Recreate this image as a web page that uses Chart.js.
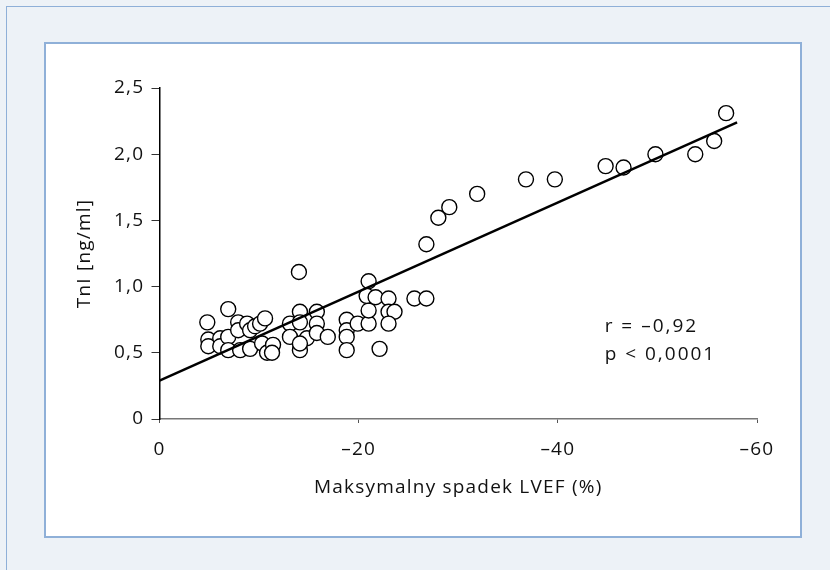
<!DOCTYPE html>
<html>
<head>
<meta charset="utf-8">
<script src="https://cdn.jsdelivr.net/npm/chart.js@4.4.1/dist/chart.umd.min.js"></script>
<style>
  html, body { margin: 0; padding: 0; }
  body { width: 830px; height: 570px; background: #edf2f7; position: relative; overflow: hidden; }
  .outer { position: absolute; left: 6px; top: 6px; width: 900px; height: 700px; border: 1px solid #8fb0d8; }
  .inner { position: absolute; left: 44px; top: 42px; width: 754px; height: 492px; background: #fff; border: 2px solid #8fb0d8; }
  #chart { position: absolute; left: 0; top: 0; }
</style>
</head>
<body>
<div class="outer"></div>
<div class="inner"></div>
<canvas id="chart" width="830" height="570"></canvas>
<script>
// max LVEF drop (%) vs TnI (ng/ml)
const lvefDrop = [
  -4.8, -4.9, -4.9, -6.1, -6.1, -6.9, -6.9, -6.9, -7.9, -7.9, -8.1, -8.8, -9.1, -9.1,
  -9.6, -10.1, -10.6, -10.3, -10.8, -11.4, -11.3,
  -14.0, -14.1, -15.8, -13.1, -14.1, -15.8, -13.1, -14.8, -15.8, -16.9, -14.1, -14.1,
  -18.8, -18.8, -18.8, -18.8, -19.9, -21.0, -21.0, -21.0, -20.8, -21.7, -23.0, -23.0,
  -23.6, -23.0, -22.1, -25.6, -26.8,
  -26.8, -28.0, -29.1, -31.9, -36.8, -39.7, -44.8, -46.6, -49.8, -53.8, -55.7, -56.9
];
const tni = [
  0.73, 0.60, 0.55, 0.61, 0.55, 0.83, 0.62, 0.52, 0.73, 0.67, 0.52, 0.72, 0.67, 0.53,
  0.70, 0.72, 0.76, 0.57, 0.50, 0.56, 0.50,
  1.11, 0.81, 0.81, 0.72, 0.73, 0.72, 0.62, 0.61, 0.65, 0.62, 0.52, 0.57,
  0.75, 0.67, 0.62, 0.52, 0.72, 0.72, 0.82, 1.04, 0.93, 0.92, 0.91, 0.81,
  0.81, 0.72, 0.53, 0.91, 0.91,
  1.32, 1.52, 1.60, 1.70, 1.81, 1.81, 1.91, 1.90, 2.00, 2.00, 2.10, 2.31
];
const fitX = [0, -58];
const fitY = [0.29, 2.24];
const xTicks = [0, -20, -40, -60];
const yTicks = [0, 0.5, 1.0, 1.5, 2.0, 2.5];
const statLines = ['r = \u20130,92', 'p < 0,0001'];
const statX = -44.7;
const statY = [0.695, 0.483];

const FONT = "'Open Sans', sans-serif";
const FS = 19;

const fmtX = v => v === 0 ? '0' : '\u2013' + Math.abs(v);
const fmtY = v => v === 0 ? '0' : v.toFixed(1).replace('.', ',');

// the original typeface runs wider, so open up the spacing a bit
const spacing = {
  id: 'spacing',
  beforeDraw(chart) { chart.ctx.letterSpacing = '1.2px'; }
};

const statPlugin = {
  id: 'stats',
  afterDatasetsDraw(chart) {
    const { ctx, scales: { x, y } } = chart;
    ctx.save();
    ctx.letterSpacing = '2px';
    ctx.font = FS + 'px ' + FONT;
    ctx.fillStyle = '#111';
    ctx.textAlign = 'left';
    ctx.textBaseline = 'middle';
    statLines.forEach((t, i) => ctx.fillText(t, x.getPixelForValue(statX), y.getPixelForValue(statY[i])));
    ctx.restore();
  }
};

new Chart(document.getElementById('chart'), {
  type: 'scatter',
  data: {
    datasets: [
      {
        type: 'line',
        data: fitX.map((v, i) => ({ x: v, y: fitY[i] })),
        borderColor: '#000',
        borderWidth: 2.5,
        pointRadius: 0,
        fill: false,
        order: 0
      },
      {
        data: lvefDrop.map((v, i) => ({ x: v, y: tni[i] })),
        backgroundColor: '#fff',
        borderColor: '#000',
        borderWidth: 1.4,
        pointRadius: 7.5,
        pointHoverRadius: 7.5,
        order: 1
      }
    ]
  },
  options: {
    responsive: false,
    animation: false,
    events: [],
    layout: { padding: { left: 73.6, right: 73, top: 88, bottom: 70.6 } },
    plugins: { legend: { display: false }, tooltip: { enabled: false } },
    scales: {
      x: {
        type: 'linear',
        reverse: true,
        min: -60,
        max: 0,
        afterBuildTicks: s => { s.ticks = xTicks.map(v => ({ value: v })); },
        afterFit: s => { s.height = 80.4; },
        border: { display: true, color: '#777', width: 1.5 },
        grid: { drawOnChartArea: false, drawTicks: true, tickLength: 4, color: '#555' },
        ticks: { padding: 15.6, color: '#111', font: { family: FONT, size: FS }, callback: v => fmtX(v) },
        title: { display: true, text: 'Maksymalny spadek LVEF (%)', color: '#111', padding: 0, font: { family: FONT, size: FS } }
      },
      y: {
        type: 'linear',
        min: 0,
        max: 2.5,
        afterBuildTicks: s => { s.ticks = yTicks.map(v => ({ value: v })); },
        afterFit: s => { s.width = 85.9; },
        border: { display: true, color: '#000', width: 1.5 },
        grid: { drawOnChartArea: false, drawTicks: true, tickLength: 8, color: '#333' },
        ticks: { padding: 7.3, color: '#111', font: { family: FONT, size: FS }, callback: v => fmtY(v) },
        title: { display: true, text: 'TnI [ng/ml]', color: '#111', padding: 0, font: { family: FONT, size: FS } }
      }
    }
  },
  plugins: [spacing, statPlugin]
});
</script>
</body>
</html>
